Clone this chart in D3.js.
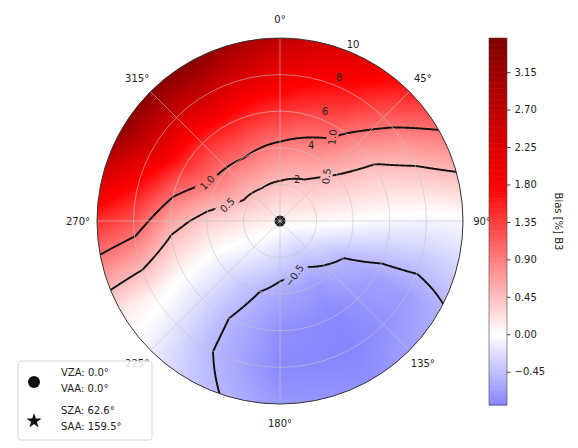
<!DOCTYPE html>
<html><head><meta charset="utf-8">
<script src="https://cdn.jsdelivr.net/npm/d3@7"></script>
<style>body{margin:0;background:#fff} text{font-family:"DejaVu Sans",sans-serif}</style>
</head><body><svg id="chart" width="578" height="448"></svg>
<script>
// ---------------- data ----------------
const azimuths = [0, 30, 60, 90, 120, 150, 180, 210, 240, 270, 300, 330];
const radii = [0, 2, 4, 6, 8, 10];
const bias = [
  [0.08, 0.45, 0.90, 1.45, 2.05, 2.65],
  [0.08, 0.38, 0.75, 1.15, 1.60, 2.10],
  [0.08, 0.25, 0.38, 0.47, 0.70, 1.00],
  [0.08, 0.05, 0.00, -0.05, -0.08, -0.05],
  [0.08, -0.20, -0.50, -0.65, -0.68, -0.55],
  [0.08, -0.35, -0.70, -0.83, -0.85, -0.78],
  [0.08, -0.30, -0.62, -0.78, -0.82, -0.72],
  [0.08, -0.15, -0.40, -0.48, -0.47, -0.38],
  [0.08, 0.00, -0.05, 0.00, 0.10, 0.15],
  [0.08, 0.20, 0.35, 0.65, 1.22, 1.45],
  [0.08, 0.42, 0.90, 1.45, 2.30, 3.30],
  [0.08, 0.48, 1.00, 1.60, 2.50, 3.50]
];
const contourLevels = [-0.5, 0.5, 1.0];
const angleTicks = [0, 45, 90, 135, 180, 225, 270, 315];
const angleTickLabels = ["0°", "45°", "90°", "135°", "180°", "225°", "270°", "315°"];
const radialTicks = [2, 4, 6, 8, 10];
const cbarTicks = [-0.45, 0.00, 0.45, 0.90, 1.35, 1.80, 2.25, 2.70, 3.15];
const cbarRange = [-0.85, 3.56];
const normMax = 3.56;
const viewer = {vza: 0.0, vaa: 0.0};
const sun = {sza: 62.6, saa: 159.5};
const cbarLabel = "Bias [%] B3";

// ---------------- layout ----------------
const W = 578, H = 448;
const cx = 280, cy = 221, R = 183;
const svg = d3.select("#chart");
const fmt = v => (v < 0 ? "\u2212" : "") + Math.abs(v).toFixed(2);

const rScale = d3.scaleLinear().domain([0, 10]).range([0, R]);
const color = d3.scaleLinear()
  .domain([-normMax, -normMax / 2, 0, normMax / 2, normMax])
  .range(["#00004c", "#0000ff", "#ffffff", "#ff0000", "#800000"])
  .clamp(true);

function field(theta, r) {
  r = Math.max(0, Math.min(10, r));
  const n = azimuths.length;
  const t = ((theta % 360) + 360) % 360;
  let i0 = n - 1;
  for (let i = 0; i < n - 1; i++) if (t >= azimuths[i] && t < azimuths[i + 1]) { i0 = i; break; }
  const i1 = (i0 + 1) % n;
  const a1 = i1 === 0 ? 360 : azimuths[i1];
  const ft = (t - azimuths[i0]) / (a1 - azimuths[i0]);
  let j0 = radii.length - 2;
  for (let j = 0; j < radii.length - 1; j++) if (r >= radii[j] && r <= radii[j + 1]) { j0 = j; break; }
  const fr = (r - radii[j0]) / (radii[j0 + 1] - radii[j0]);
  const v00 = bias[i0][j0], v01 = bias[i0][j0 + 1], v10 = bias[i1][j0], v11 = bias[i1][j0 + 1];
  const va = v00 + (v01 - v00) * fr, vb = v10 + (v11 - v10) * fr;
  return va + (vb - va) * ft;
}
function polarAt(px, py) {
  const dx = px - cx, up = cy - py;
  let th = Math.atan2(dx, up) * 180 / Math.PI;
  if (th < 0) th += 360;
  return [th, rScale.invert(Math.hypot(dx, up))];
}
function toXY(thDeg, rPx) {
  const a = thDeg * Math.PI / 180;
  return [cx + rPx * Math.sin(a), cy - rPx * Math.cos(a)];
}

// clip
const defs = svg.append("defs");
defs.append("clipPath").attr("id", "circ").append("circle").attr("cx", cx).attr("cy", cy).attr("r", R);

// ---------------- heatmap (raster via canvas) ----------------
const size = 2 * R + 4, x0 = cx - R - 2, y0 = cy - R - 2;
const canvas = document.createElement("canvas");
canvas.width = size; canvas.height = size;
const ctx = canvas.getContext("2d");
const img = ctx.createImageData(size, size);
for (let j = 0; j < size; j++) {
  for (let i = 0; i < size; i++) {
    const [th, r] = polarAt(x0 + i + 0.5, y0 + j + 0.5);
    if (r > 10.2) continue;
    const c = d3.rgb(color(field(th, r)));
    const k = (j * size + i) * 4;
    img.data[k] = c.r; img.data[k + 1] = c.g; img.data[k + 2] = c.b; img.data[k + 3] = 255;
  }
}
ctx.putImageData(img, 0, 0);
const plot = svg.append("g").attr("clip-path", "url(#circ)");
plot.append("image").attr("x", x0).attr("y", y0).attr("width", size).attr("height", size)
  .attr("href", canvas.toDataURL());

// ---------------- grid ----------------
const grid = svg.append("g").attr("fill", "none").attr("stroke", "#c4c4c4").attr("stroke-opacity", 0.75).attr("stroke-width", 0.8);
radialTicks.filter(t => t < 10).forEach(t => grid.append("circle").attr("cx", cx).attr("cy", cy).attr("r", rScale(t)));
angleTicks.forEach(a => {
  const [x, y] = toXY(a, R);
  grid.append("line").attr("x1", cx).attr("y1", cy).attr("x2", x).attr("y2", y);
});

// radial labels
radialTicks.forEach(t => {
  const [x, y] = toXY(22.5, rScale(t) + 8);
  svg.append("text").attr("x", x).attr("y", y).attr("text-anchor", "middle").attr("dominant-baseline", "middle")
    .attr("font-size", 10).attr("fill", "#222").text(t);
});

// ---------------- contours ----------------
const gm = 12, gn = 2 * R + 2 * gm, gx0 = cx - R - gm, gy0 = cy - R - gm;
const values = new Float64Array(gn * gn);
for (let j = 0; j < gn; j++) for (let i = 0; i < gn; i++) {
  const [th, r] = polarAt(gx0 + i, gy0 + j);
  values[i + j * gn] = field(th, r);
}
const contours = d3.contours().size([gn, gn]).thresholds(contourLevels)(values);
const proj = d3.geoIdentity().translate([gx0, gy0]);
const path = d3.geoPath(proj);

// label specs (layout): level, azimuth, radius (data units), rotation
const labelSpecs = [
  {level: 1.0, az: 298, r: 4.5, rot: -45},
  {level: 1.0, az: 31, r: 5.5, rot: -85},
  {level: 0.5, az: 286, r: 3.0, rot: -45},
  {level: 0.5, az: 42, r: 3.7, rot: -85},
  {level: -0.5, az: 166, r: 2.9, rot: -55}
];
const mask = defs.append("mask").attr("id", "lblmask").attr("maskUnits", "userSpaceOnUse")
  .attr("x", 0).attr("y", 0).attr("width", W).attr("height", H);
mask.append("rect").attr("width", W).attr("height", H).attr("fill", "#fff");
const labelPos = labelSpecs.map(s => {
  const [tx, ty] = toXY(s.az, rScale(s.r));
  const c = contours.find(c => Math.abs(c.value - s.level) < 1e-9);
  let best = [tx, ty], bd = Infinity;
  c.coordinates.forEach(poly => poly.forEach(ring => ring.forEach(p => {
    const x = p[0] + gx0, y = p[1] + gy0;
    const d = (x - tx) ** 2 + (y - ty) ** 2;
    if (d < bd && Math.hypot(x - cx, y - cy) < R - 2) { bd = d; best = [x, y]; }
  })));
  return {...s, x: best[0], y: best[1], text: (s.level < 0 ? "\u2212" : "") + Math.abs(s.level).toFixed(1)};
});
labelPos.forEach(l => {
  const w = l.text.length * 6.2 + 6;
  mask.append("rect").attr("x", -w / 2).attr("y", -6).attr("width", w).attr("height", 12).attr("fill", "#000")
    .attr("transform", `translate(${l.x},${l.y}) rotate(${l.rot})`);
});
const cl = plot.append("g").attr("mask", "url(#lblmask)");
cl.selectAll("path").data(contours).join("path")
  .attr("d", path).attr("fill", "none").attr("stroke", "#111").attr("stroke-width", 1.9).attr("stroke-linejoin", "round");
plot.selectAll("text.clabel").data(labelPos).join("text").attr("class", "clabel")
  .attr("transform", d => `translate(${d.x},${d.y}) rotate(${d.rot})`)
  .attr("text-anchor", "middle").attr("dominant-baseline", "central")
  .attr("font-size", 10).attr("fill", "#222").text(d => d.text);

// markers
const vXY = toXY(viewer.vaa, rScale(viewer.vza));
plot.append("circle").attr("cx", vXY[0]).attr("cy", vXY[1]).attr("r", 5.5).attr("fill", "#111");
plot.append("circle").attr("cx", vXY[0]).attr("cy", vXY[1]).attr("r", 1.6).attr("fill", "#777");
const starPath = d3.symbol().type(d3.symbolStar).size(90)();
const sunXY = toXY(sun.saa, rScale(sun.sza));
plot.append("path").attr("d", starPath).attr("transform", `translate(${sunXY[0]},${sunXY[1]})`).attr("fill", "#111");

// spine
svg.append("circle").attr("cx", cx).attr("cy", cy).attr("r", R).attr("fill", "none").attr("stroke", "#333").attr("stroke-width", 1);

// angular labels
angleTicks.forEach((a, i) => {
  const [x, y] = toXY(a, R + 19);
  svg.append("text").attr("x", x).attr("y", y).attr("text-anchor", "middle").attr("dominant-baseline", "central")
    .attr("font-size", 10).attr("fill", "#222").text(angleTickLabels[i]);
});

// ---------------- colorbar ----------------
const cbX = 489, cbW = 18, cbTop = 38, cbBot = 405;
const cbScale = d3.scaleLinear().domain(cbarRange).range([cbBot, cbTop]);
const steps = d3.range(0, 300);
const cb = svg.append("g");
steps.forEach(k => {
  const v0 = cbarRange[0] + (cbarRange[1] - cbarRange[0]) * k / steps.length;
  const v1 = cbarRange[0] + (cbarRange[1] - cbarRange[0]) * (k + 1) / steps.length;
  cb.append("rect").attr("x", cbX).attr("width", cbW).attr("y", cbScale(v1)).attr("height", cbScale(v0) - cbScale(v1) + 0.6)
    .attr("fill", color((v0 + v1) / 2));
});
cb.append("rect").attr("x", cbX).attr("y", cbTop).attr("width", cbW).attr("height", cbBot - cbTop)
  .attr("fill", "none").attr("stroke", "#444").attr("stroke-width", 0.6);
const cbAxis = d3.axisRight(cbScale).tickValues(cbarTicks).tickFormat(fmt).tickSize(3.5).tickPadding(4);
const cbg = svg.append("g").attr("transform", `translate(${cbX + cbW},0)`).call(cbAxis);
cbg.select(".domain").remove();
cbg.selectAll("text").attr("font-size", 10).attr("fill", "#222").attr("font-family", "DejaVu Sans");
cbg.selectAll("line").attr("stroke", "#444");
svg.append("text").attr("transform", `translate(558,${(cbTop + cbBot) / 2}) rotate(90)`)
  .attr("text-anchor", "middle").attr("dominant-baseline", "central").attr("font-size", 10).attr("fill", "#222").text(cbarLabel);

// ---------------- legend ----------------
const lg = svg.append("g");
lg.append("rect").attr("x", 18).attr("y", 361).attr("width", 134).attr("height", 79).attr("rx", 3)
  .attr("fill", "#fff").attr("fill-opacity", 0.85).attr("stroke", "#ccc").attr("stroke-width", 0.8);
lg.append("circle").attr("cx", 34).attr("cy", 382).attr("r", 6).attr("fill", "#111");
lg.append("path").attr("d", d3.symbol().type(d3.symbolStar).size(70)()).attr("transform", "translate(34,421)").attr("fill", "#111");
const legendLines = [
  [`VZA: ${viewer.vza.toFixed(1)}°`, 376], [`VAA: ${viewer.vaa.toFixed(1)}°`, 392],
  [`SZA: ${sun.sza.toFixed(1)}°`, 414], [`SAA: ${sun.saa.toFixed(1)}°`, 430]
];
legendLines.forEach(([t, y]) => lg.append("text").attr("x", 61).attr("y", y).attr("font-size", 10).attr("fill", "#222").text(t));
</script></body></html>
